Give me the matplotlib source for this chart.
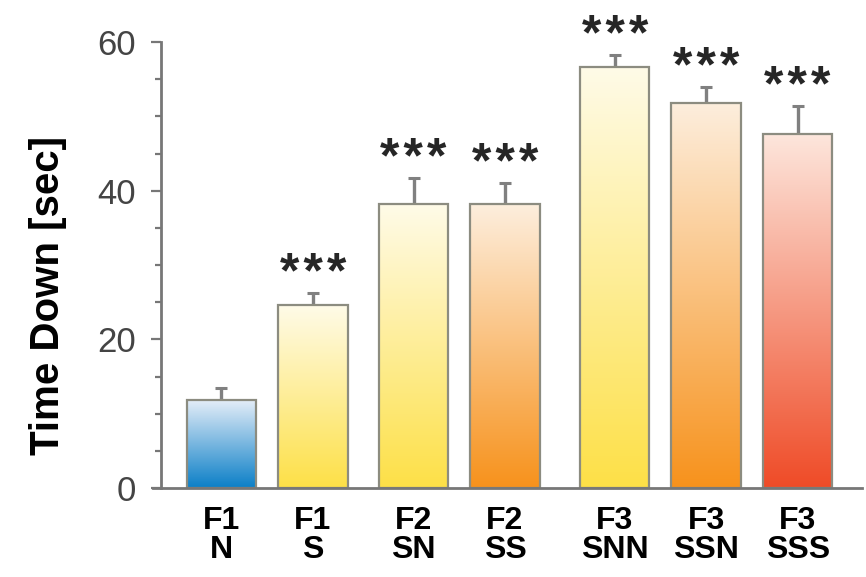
import numpy as np
import matplotlib
matplotlib.use("Agg")
import matplotlib.pyplot as plt
from matplotlib.colors import LinearSegmentedColormap

plt.rcParams["font.family"] = ["Liberation Sans", "DejaVu Sans"]

groups = ["F1\nN", "F1\nS", "F2\nSN", "F2\nSS", "F3\nSNN", "F3\nSSN", "F3\nSSS"]
time_down = [11.8, 24.6, 38.2, 38.2, 56.7, 51.8, 47.6]
sem = [1.7, 1.6, 3.5, 2.8, 1.6, 2.2, 3.8]
stars = ["", "***", "***", "***", "***", "***", "***"]

# gradient end colours per bar (top, bottom)
top_colors = ["#e4edf8", "#fffbe8", "#fffbe8", "#fdeedd", "#fffbe8", "#fdeedd", "#fde6dc"]
bottom_colors = ["#0b7fc7", "#fde047", "#fde047", "#f7921c", "#fde047", "#f7921c", "#ef4b27"]

xpos = [0, 1, 2.1, 3.1, 4.3, 5.3, 6.3]
bar_w = 0.76

fig = plt.figure(figsize=(8.66, 5.77), dpi=100)
ax = fig.add_axes([0.186, 0.154, 0.809, 0.773])

bars = ax.bar(xpos, time_down, width=bar_w, color="none",
              edgecolor="#8c8c80", linewidth=1.6, zorder=3)

grad = np.linspace(0, 1, 256).reshape(-1, 1)
for b, c0, c1 in zip(bars, top_colors, bottom_colors):
    cmap = LinearSegmentedColormap.from_list("g", [c0, c1])
    x0 = b.get_x()
    h = b.get_height()
    im = ax.imshow(grad, cmap=cmap, aspect="auto", origin="upper",
                   extent=[x0, x0 + b.get_width(), 0, h], zorder=2)
    im.set_clip_path(b)

# error bars sit behind the filled bars so only the upper half shows
ax.errorbar(xpos, time_down, yerr=sem, fmt="none",
            ecolor="#808080", elinewidth=2.4, capsize=4, capthick=2.2, zorder=1.5)

for x, v, e, s in zip(xpos, time_down, sem, stars):
    if s:
        ax.text(x, v + e + 0.7, "\u200a".join(s), ha="center", va="baseline",
                fontsize=36, fontweight="bold", color="#262626")

ax.set_xlim(-0.66, 7.0)
ax.set_ylim(0, 60)

ax.spines["top"].set_visible(False)
ax.spines["right"].set_visible(False)
for side in ("left", "bottom"):
    ax.spines[side].set_color("#777777")
    ax.spines[side].set_linewidth(2)
ax.spines["bottom"].set_bounds(-0.75, 7.0)
ax.spines["bottom"].set_zorder(5)

ax.set_yticks([0, 20, 40, 60])
ax.set_yticks(np.arange(0, 61, 5), minor=True)
ax.tick_params(axis="y", which="major", length=7, width=1.6, color="#777777",
               labelsize=25, labelcolor="#444444", pad=11)
ax.tick_params(axis="y", which="minor", length=4.5, width=1.6, color="#777777")

ax.set_xticks(xpos)
ax.set_xticklabels(groups, fontsize=23, fontweight="bold", linespacing=0.95)
ax.tick_params(axis="x", length=0, pad=13)

ax.set_ylabel("Time Down [sec]", fontsize=29, fontweight="bold")
ax.yaxis.set_label_coords(-0.134, 0.433)

fig.savefig("out.png", dpi=100)
